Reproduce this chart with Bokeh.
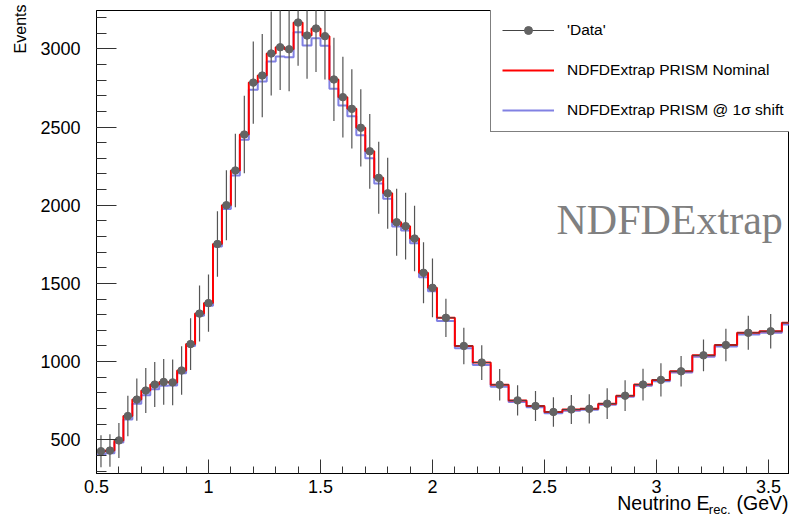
from bokeh.plotting import figure
from bokeh.models import (Range1d, SingleIntervalTicker, Legend, LegendItem, Label, Title,
                          NumeralTickFormatter, ColumnDataSource)
from bokeh.embed import file_html
from bokeh.resources import INLINE

# ---------------- data ----------------
bin_edges = [0.50, 0.54, 0.58, 0.62, 0.66, 0.70, 0.74, 0.78, 0.82, 0.86, 0.90, 0.94, 0.98,
             1.02, 1.06, 1.10, 1.14, 1.18, 1.22, 1.26, 1.30, 1.34, 1.38, 1.42, 1.46, 1.50,
             1.54, 1.58, 1.62, 1.66, 1.70, 1.74, 1.78, 1.82, 1.86, 1.90, 1.94, 1.98, 2.02,
             2.10, 2.18, 2.26, 2.34, 2.42, 2.50, 2.58, 2.66, 2.74, 2.82, 2.90, 2.98, 3.06,
             3.16, 3.26, 3.36, 3.46, 3.56, 3.66]

nominal = [427, 431, 496, 652, 757, 815, 853, 870, 867, 943, 1112, 1307, 1374,
           1752, 2000, 2222, 2452, 2784, 2829, 2970, 3010, 2997, 3168, 3085, 3130, 3081,
           2804, 2691, 2616, 2495, 2345, 2175, 2076, 1891, 1866, 1787, 1568, 1472,
           1280, 1100, 994, 852, 752, 716, 678, 694, 698, 731, 782, 853, 883,
           938, 1040, 1106, 1184, 1194, 1248]

shifted = [406, 414, 483, 630, 730, 785, 824, 845, 847, 926, 1099, 1293, 1357,
           1736, 1975, 2190, 2418, 2738, 2791, 2919, 2951, 2946, 3106, 3021, 3068, 3019,
           2744, 2637, 2569, 2447, 2301, 2139, 2041, 1864, 1838, 1757, 1540, 1450,
           1260, 1086, 979, 839, 741, 708, 670, 685, 692, 724, 775, 845, 875,
           930, 1031, 1097, 1174, 1184, 1238]

fake_data = [427, 431, 496, 652, 757, 815, 853, 870, 867, 943, 1112, 1307, 1374,
             1752, 2000, 2222, 2452, 2784, 2829, 2970, 3010, 2997, 3168, 3085, 3130, 3081,
             2804, 2691, 2616, 2495, 2345, 2175, 2076, 1891, 1866, 1787, 1568, 1472,
             1280, 1100, 994, 852, 752, 716, 678, 694, 698, 731, 782, 853, 883,
             938, 1040, 1106, 1184, 1194, 1248]

data_err = [102, 104, 112, 130, 135, 144, 144, 146, 146, 155, 165, 179, 183,
            209, 224, 235, 248, 263, 266, 269, 273, 269, 277, 277, 279, 277,
            266, 258, 254, 247, 239, 230, 227, 214, 213, 210, 195, 188,
            122, 117, 111, 101, 96, 96, 94, 93, 94, 98, 98, 102, 106,
            98, 101, 104, 109, 110, 112]

x_ticks_interval = 0.5
y_ticks_interval = 500

# ---------------- derived columns ----------------
lo = bin_edges[:-1]
hi = bin_edges[1:]
centers = [(a + b) / 2 for a, b in zip(lo, hi)]
src = ColumnDataSource(dict(
    lo=lo, hi=hi, c=centers, v=fake_data,
    ylo=[v - e for v, e in zip(fake_data, data_err)],
    yhi=[v + e for v, e in zip(fake_data, data_err)],
))

FONT = "Liberation Sans"

p = figure(width=789, height=516, output_backend="svg", toolbar_location=None,
           x_range=Range1d(0.5, 3.594), y_range=Range1d(284.5, 3245),
           min_border_left=95, min_border_right=0, min_border_top=10, min_border_bottom=43)
p.title.visible = False
p.grid.visible = False
p.outline_line_color = "black"
p.outline_line_width = 1
p.background_fill_color = "white"
p.border_fill_color = "white"

# axes
p.xaxis.ticker = SingleIntervalTicker(interval=x_ticks_interval, num_minor_ticks=5)
p.yaxis.ticker = SingleIntervalTicker(interval=y_ticks_interval, num_minor_ticks=5)
p.xaxis.formatter = NumeralTickFormatter(format="0.[0]")
for ax in (p.xaxis, p.yaxis):
    ax.axis_line_color = "black"
    ax.major_tick_line_color = "#333333"
    ax.minor_tick_line_color = "#333333"
    ax.major_tick_out = 0
    ax.minor_tick_out = 0
    ax.major_label_text_font = FONT
    ax.major_label_text_font_size = "18px"
    ax.major_label_text_color = "black"
p.xaxis.major_tick_in = 14
p.xaxis.minor_tick_in = 7
p.yaxis.major_tick_in = 20
p.yaxis.minor_tick_in = 10
p.xaxis.major_label_standoff = 6
p.yaxis.major_label_standoff = 16

# histograms
r_blue = p.step(x=bin_edges, y=shifted + [shifted[-1]], mode="after",
                line_color="#6262dc", line_width=2, line_alpha=0.8)
r_red = p.step(x=bin_edges, y=nominal + [nominal[-1]], mode="after",
               line_color="#ff0000", line_width=2)

# data
r_err = p.segment(x0="c", y0="ylo", x1="c", y1="yhi", source=src,
                  line_color="#555555", line_width=1.2)
r_hbar = p.segment(x0="lo", y0="v", x1="hi", y1="v", source=src,
                   line_color="#444444", line_width=1)
r_pts = p.scatter(x="c", y="v", source=src, size=7.5, marker="circle",
                  fill_color="#636363", line_color="#636363")

legend = Legend(items=[
    LegendItem(label="'Data'", renderers=[r_hbar, r_pts]),
    LegendItem(label="NDFDExtrap PRISM Nominal", renderers=[r_red]),
    LegendItem(label="NDFDExtrap PRISM @ 1σ shift", renderers=[r_blue]),
], location=(394, 341))
legend.glyph_width = 52
legend.glyph_height = 20
legend.label_height = 20
legend.label_width = 232
legend.spacing = 20
legend.padding = 11
legend.margin = 0
legend.label_standoff = 13
legend.label_text_font = FONT
legend.label_text_font_size = "15.5px"
legend.label_text_color = "black"
legend.border_line_color = "black"
legend.border_line_width = 1
legend.background_fill_color = "white"
legend.background_fill_alpha = 1
p.add_layout(legend)

# watermark
p.add_layout(Label(x=460, y=254, x_units="screen", y_units="screen", text="NDFDExtrap",
                   text_font="Liberation Serif", text_font_size="42px",
                   text_color="#808080", text_baseline="alphabetic"))

# y title: top-aligned, left of the tick labels
p.add_layout(Title(text="Events", align="right", vertical_align="bottom",
                   standoff=18, offset=-6, text_font=FONT, text_font_size="16px",
                   text_font_style="normal", text_color="black"), "left")

# x title, right-aligned at the axis end, with a subscript
NB = "\u00a0"
p.add_layout(Title(text="Neutrino E" + NB * 5 + "(GeV)", align="right",
                   vertical_align="bottom", standoff=-11, offset=1,
                   text_font=FONT, text_font_size="19.5px",
                   text_font_style="normal", text_color="black"), "below")
p.add_layout(Title(text="rec.", align="right", vertical_align="top",
                   standoff=-13, offset=59,
                   text_font=FONT, text_font_size="13px",
                   text_font_style="normal", text_color="black"), "below")

open("out.html", "w").write(file_html(p, INLINE))
